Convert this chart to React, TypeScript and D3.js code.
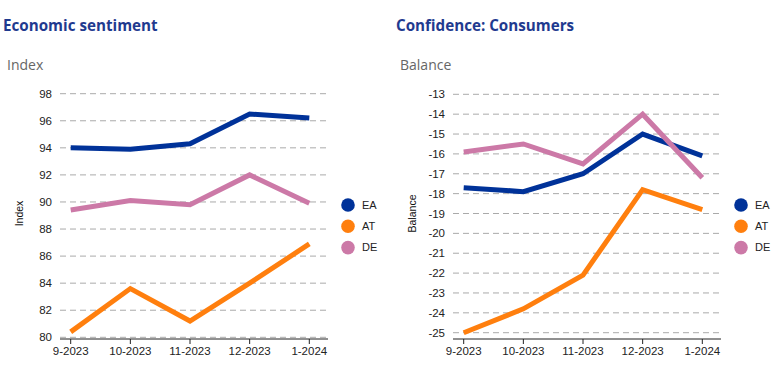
import React from "react";
import * as d3 from "d3";

const categories = ["9-2023", "10-2023", "11-2023", "12-2023", "1-2024"];
const seriesNames = ["EA", "AT", "DE"];
const seriesColors = ["#003299", "#ff7f0e", "#cc79a7"];

const sentimentEA = [94.0, 93.9, 94.3, 96.5, 96.2];
const sentimentAT = [80.4, 83.6, 81.2, 84.0, 86.9];
const sentimentDE = [89.4, 90.1, 89.8, 92.0, 89.9];
const sentimentTicks = [80, 82, 84, 86, 88, 90, 92, 94, 96, 98];

const consumersEA = [-17.7, -17.9, -17.0, -15.0, -16.1];
const consumersAT = [-25.0, -23.8, -22.1, -17.8, -18.8];
const consumersDE = [-15.9, -15.5, -16.5, -14.0, -17.2];
const consumersTicks = [-25, -24, -23, -22, -21, -20, -19, -18, -17, -16, -15, -14, -13];

const TICK_FONT = "'Liberation Sans', Arial, sans-serif";
const TITLE_FONT = "'Open Sans', 'Noto Sans', sans-serif";

type PanelProps = {
  ox: number;
  title: string;
  unit: string;
  series: number[][];
  ticks: number[];
  domain: [number, number];
  yRange: [number, number];
};

function Panel({ ox, title, unit, series, ticks, domain, yRange }: PanelProps) {
  const x0 = 60;
  const x1 = 328;
  const axisY = 339;
  const x = d3.scalePoint<string>().domain(categories).range([70.7, 309.3]);
  const y = d3.scaleLinear().domain(domain).range(yRange);
  const line = d3
    .line<number>()
    .x((_, i) => x(categories[i]) as number)
    .y((d) => y(d));
  return (
    <g transform={`translate(${ox},0)`}>
      <text x={3} y={31} fontFamily={TITLE_FONT} fontWeight={700} fontSize={15.2} fill="#1f3a8f">
        {title}
      </text>
      <text x={7} y={70} fontFamily={TITLE_FONT} fontSize={14} fill="#666">
        {unit}
      </text>
      <text
        transform={`translate(23,${(88 + axisY) / 2}) rotate(-90)`}
        textAnchor="middle"
        fontFamily={TICK_FONT}
        fontSize={10.5}
        fill="#111"
      >
        {unit}
      </text>
      {ticks.map((t) => (
        <g key={t}>
          <line
            x1={x0}
            x2={x1 - 1}
            y1={y(t)}
            y2={y(t)}
            stroke="#aaa"
            strokeWidth={1}
            strokeDasharray="6,4"
          />
          <text
            x={x0 - 8}
            y={y(t)}
            dy="0.35em"
            textAnchor="end"
            fontFamily={TICK_FONT}
            fontSize={11.5}
            fill="#222"
          >
            {t}
          </text>
        </g>
      ))}
      <line x1={x0} x2={x1} y1={axisY} y2={axisY} stroke="#222" strokeWidth={1} />
      {categories.map((c) => (
        <g key={c}>
          <line x1={x(c)} x2={x(c)} y1={axisY} y2={axisY + 5} stroke="#222" strokeWidth={1} />
          <text
            x={x(c)}
            y={axisY + 12}
            dy="0.35em"
            textAnchor="middle"
            fontFamily={TICK_FONT}
            fontSize={11.5}
            fill="#222"
          >
            {c}
          </text>
        </g>
      ))}
      {series.map((s, idx) => (
        <path
          key={idx}
          d={line(s) || ""}
          fill="none"
          stroke={seriesColors[idx]}
          strokeWidth={5}
          strokeLinejoin="miter"
        />
      ))}
      {seriesNames.map((n, i) => (
        <g key={n} transform={`translate(0,${205 + i * 21.3})`}>
          <circle cx={348} cy={0} r={6.8} fill={seriesColors[i]} />
          <text x={362} y={0} dy="0.35em" fontFamily={TICK_FONT} fontSize={11} fill="#222">
            {n}
          </text>
        </g>
      ))}
    </g>
  );
}

export default function App() {
  return (
    <svg
      width={771}
      height={375}
      style={{ position: "absolute", left: 0, top: 0, background: "#fff" }}
    >
      <Panel
        ox={0}
        title="Economic sentiment"
        unit="Index"
        series={[sentimentEA, sentimentAT, sentimentDE]}
        ticks={sentimentTicks}
        domain={[80, 98]}
        yRange={[337.3, 93.7]}
      />
      <Panel
        ox={393}
        title="Confidence: Consumers"
        unit="Balance"
        series={[consumersEA, consumersAT, consumersDE]}
        ticks={consumersTicks}
        domain={[-25, -13]}
        yRange={[332.7, 94.3]}
      />
    </svg>
  );
}
